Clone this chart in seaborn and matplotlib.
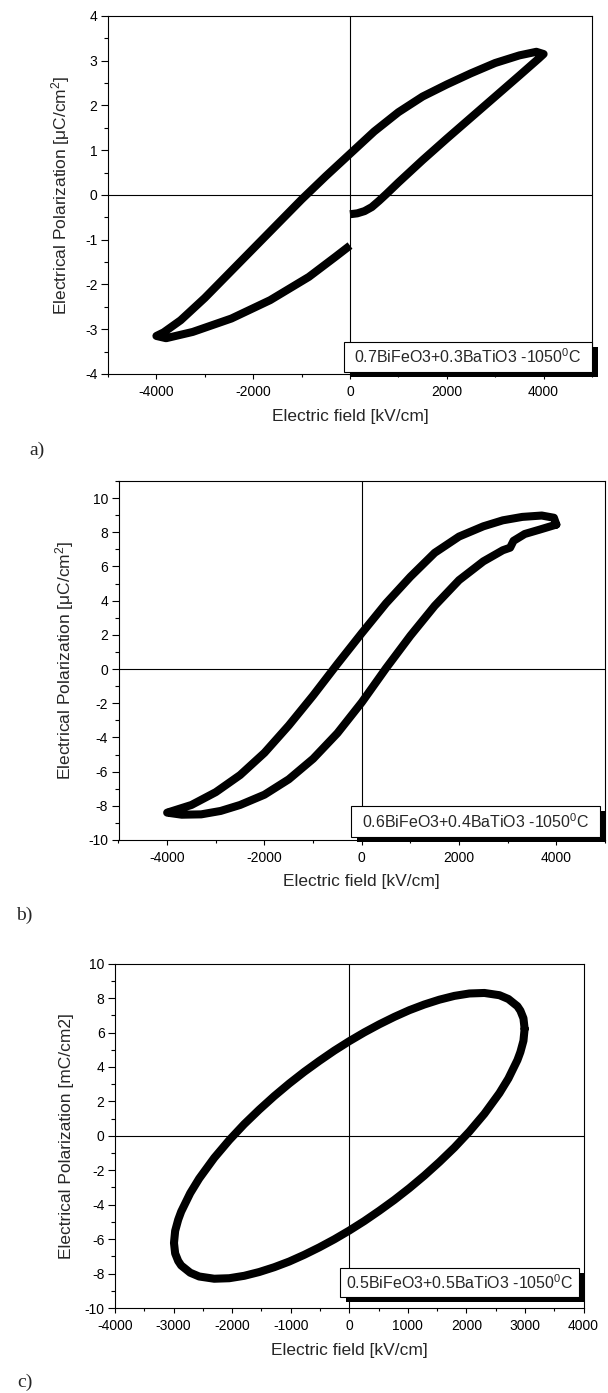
import matplotlib
matplotlib.use("Agg")
import matplotlib.pyplot as plt
import numpy as np
import pandas as pd
import seaborn as sns
from matplotlib.patches import Rectangle
from matplotlib.ticker import MultipleLocator
from matplotlib.transforms import ScaledTranslation

# ---------------- data ----------------
# a) 0.7BiFeO3+0.3BaTiO3
a_field = [0, 150, 300, 450, 600, 750, 1000, 1500, 2000, 2500, 3000, 3500, 3900, 4000,
           3850, 3500, 3000, 2500, 2000, 1500, 1000, 500, 0, -500, -1000, -1500,
           -2000, -2500, -3000, -3500, -3850, -4000,
           -3800, -3250, -2450, -1650, -850, -300, 0]
a_pol = [-0.43, -0.41, -0.36, -0.27, -0.13, 0.02, 0.28, 0.78, 1.26, 1.73, 2.20, 2.67, 3.05, 3.15,
         3.20, 3.12, 2.95, 2.72, 2.47, 2.20, 1.85, 1.42, 0.92, 0.42, -0.10, -0.65,
         -1.20, -1.75, -2.30, -2.80, -3.07, -3.15,
         -3.20, -3.06, -2.76, -2.35, -1.83, -1.38, -1.13]

# b) 0.6BiFeO3+0.4BaTiO3
b_field = [4000, 3950, 3700, 3300, 2900, 2500, 2000, 1500, 1000, 500, 0, -500,
           -1000, -1500, -2000, -2500, -3000, -3500, -4000,
           -3700, -3300, -2900, -2500, -2000, -1500, -1000, -500, 0, 500, 1000,
           1500, 2000, 2500, 2900, 3050, 3120, 3350, 3650, 4000]
b_pol = [8.45, 8.85, 8.98, 8.90, 8.70, 8.35, 7.75, 6.80, 5.40, 3.85, 2.10, 0.30,
         -1.55, -3.30, -4.90, -6.20, -7.20, -7.95, -8.40,
         -8.52, -8.50, -8.30, -7.95, -7.35, -6.45, -5.25, -3.75, -1.95, 0.05, 1.95,
         3.70, 5.20, 6.30, 6.95, 7.10, 7.50, 7.90, 8.15, 8.45]

# c) 0.5BiFeO3+0.5BaTiO3
c_field = [2993, 2973, 2921, 2870, 2716, 2563, 2306, 2050, 1794, 1538, 1281, 1025,
           769, 513, 256, 0, -256, -513, -769, -1025, -1281, -1538, -1794, -2050,
           -2306, -2563, -2716, -2870, -2921, -2973,
           -2993, -2973, -2921, -2870, -2716, -2563, -2306, -2050, -1794, -1538, -1281, -1025,
           -769, -513, -256, 0, 256, 513, 769, 1025, 1281, 1538, 1794, 2050,
           2306, 2563, 2716, 2870, 2921, 2973, 2993]
c_pol = [6.22, 6.83, 7.27, 7.53, 7.95, 8.17, 8.30, 8.27, 8.13, 7.91, 7.63, 7.30,
         6.91, 6.48, 6.01, 5.50, 4.95, 4.35, 3.72, 3.04, 2.31, 1.52, 0.68, -0.25,
         -1.28, -2.48, -3.33, -4.40, -4.87, -5.52,
         -6.22, -6.83, -7.27, -7.53, -7.95, -8.17, -8.30, -8.27, -8.13, -7.91, -7.63, -7.30,
         -6.91, -6.48, -6.01, -5.50, -4.95, -4.35, -3.72, -3.04, -2.31, -1.52, -0.68, 0.25,
         1.28, 2.48, 3.33, 4.40, 4.87, 5.52, 6.22]

labels = ["0.7BiFeO3+0.3BaTiO3 -1050$^{0}$C",
          "0.6BiFeO3+0.4BaTiO3 -1050$^{0}$C",
          "0.5BiFeO3+0.5BaTiO3 -1050$^{0}$C"]
ylabels = ["Electrical Polarization [μC/cm$^{2}$]",
           "Electrical Polarization [μC/cm$^{2}$]",
           "Electrical Polarization [mC/cm2]"]
xlabel = "Electric field [kV/cm]"
panel_letters = ["a)", "b)", "c)"]

# ---------------- style ----------------
sns.set_style("ticks")
plt.rcParams["font.family"] = ["Liberation Sans", "DejaVu Sans"]
plt.rcParams["mathtext.fontset"] = "custom"
plt.rcParams["mathtext.rm"] = "Liberation Sans"
plt.rcParams["mathtext.it"] = "Liberation Sans:italic"
plt.rcParams["mathtext.bf"] = "Liberation Sans:bold"
plt.rcParams["axes.unicode_minus"] = False
plt.rcParams["axes.edgecolor"] = "black"
plt.rcParams["axes.linewidth"] = 0.8
plt.rcParams["xtick.color"] = "black"
plt.rcParams["ytick.color"] = "black"

W, H = 608, 1393
fig = plt.figure(figsize=(W / 100, H / 100), dpi=100)

def rect(l, r, t, b):
    return [l / W, 1 - b / H, (r - l) / W, (b - t) / H]

axes_px = [(108, 592, 16, 374), (118.5, 605, 481, 840), (115, 583.6, 963.7, 1308)]
limits = [((-5000, 5000), (-4, 4)), ((-5000, 5000), (-10, 11)), ((-4000, 4000), (-10, 10))]
xmaj = [2000, 2000, 1000]
xmin = [1000, 1000, 500]
ymaj = [1, 2, 2]
ymin = [0.5, 1, 1]
boxes_px = [(344, 592, 342, 372), (351, 600, 806, 837), (340, 579, 1268, 1297)]
ylab_px = [72, 75.7, 73.8]
xlab_px = [409, 874, 1343]
letter_px = [(37, 450), (24, 915), (25, 1382)]
datasets = [(a_field, a_pol, "butt"), (b_field, b_pol, "round"), (c_field, c_pol, "round")]

for i in range(3):
    l, r, t, b = axes_px[i]
    ax = fig.add_axes(rect(l, r, t, b))
    E, P, cap = datasets[i]
    df = pd.DataFrame({"E": E, "P": P})
    sns.lineplot(data=df, x="E", y="P", sort=False, estimator=None, ax=ax,
                 color="black", lw=5.8, solid_joinstyle="round",
                 solid_capstyle=cap, zorder=3)
    ax.axhline(0, color="black", lw=0.8, zorder=2)
    ax.axvline(0, color="black", lw=0.8, zorder=2)
    ax.set_xlim(*limits[i][0])
    ax.set_ylim(*limits[i][1])
    ax.xaxis.set_major_locator(MultipleLocator(xmaj[i]))
    ax.xaxis.set_minor_locator(MultipleLocator(xmin[i]))
    ax.yaxis.set_major_locator(MultipleLocator(ymaj[i]))
    ax.yaxis.set_minor_locator(MultipleLocator(ymin[i]))
    ax.tick_params(axis="x", which="major", direction="out", length=3.8, width=0.8,
                   labelsize=10, pad=4)
    ax.tick_params(axis="x", which="minor", direction="out", length=2.2, width=0.8)
    ax.tick_params(axis="y", which="major", direction="out", length=5.0, width=0.8,
                   labelsize=10, pad=2.5)
    ax.tick_params(axis="y", which="minor", direction="out", length=2.8, width=0.8)
    for s in ["top", "right", "left", "bottom"]:
        ax.spines[s].set_visible(True)
        ax.spines[s].set_color("black")
        ax.spines[s].set_linewidth(0.8)
    ax.set_xlabel(xlabel, fontsize=12.5)
    ax.set_ylabel(ylabels[i], fontsize=12.5)
    wpx, hpx = r - l, b - t
    ax.yaxis.set_label_coords((ylab_px[i] - l) / wpx, 0.5)
    ax.xaxis.set_label_coords(0.5, (b - xlab_px[i]) / hpx)

    # legend-like box with black shadow
    bl, br, bt, bb = boxes_px[i]
    x0 = (bl - l) / wpx
    y0 = (b - bb) / hpx
    w = (br - bl) / wpx
    h = (bb - bt) / hpx
    shadow_tr = ax.transAxes + ScaledTranslation(6 / 100, -5 / 100, fig.dpi_scale_trans)
    ax.add_patch(Rectangle((x0, y0), w, h, transform=shadow_tr, fc="black", ec="black",
                           lw=0, clip_on=False, zorder=5))
    ax.add_patch(Rectangle((x0, y0), w, h, transform=ax.transAxes, fc="white", ec="black",
                           lw=0.8, clip_on=False, zorder=6))
    ax.text(x0 + w / 2, y0 + h / 2, labels[i], transform=ax.transAxes, ha="center",
            va="center", fontsize=11.5, zorder=7)

    lx, ly = letter_px[i]
    fig.text(lx / W, 1 - ly / H, panel_letters[i], ha="center", va="center",
             fontsize=14, family=["Liberation Serif", "DejaVu Serif"])

fig.savefig("out.png", dpi=100)
